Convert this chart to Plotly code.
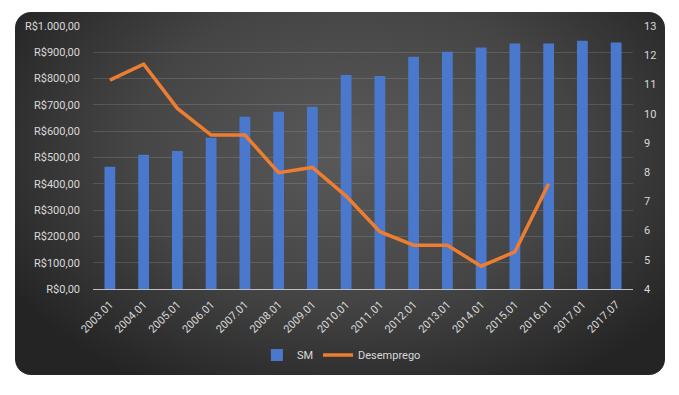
import base64
import plotly.graph_objects as go

categories = ["2003.01", "2004.01", "2005.01", "2006.01", "2007.01", "2008.01",
              "2009.01", "2010.01", "2011.01", "2012.01", "2013.01", "2014.01",
              "2015.01", "2016.01", "2017.01", "2017.07"]
sm_values = [465, 510, 525, 575, 655, 674, 693, 814, 810, 883, 902, 918, 933, 933, 944, 937]
desemprego = [11.15, 11.69, 10.18, 9.27, 9.27, 7.98, 8.16, 7.18, 5.96, 5.5, 5.5, 4.78, 5.27, 7.6, None, None]
left_tickvals = [0, 100, 200, 300, 400, 500, 600, 700, 800, 900, 1000]
left_ticktext = ["R$0,00", "R$100,00", "R$200,00", "R$300,00", "R$400,00", "R$500,00",
                 "R$600,00", "R$700,00", "R$800,00", "R$900,00", "R$1.000,00"]

svg = """<svg xmlns='http://www.w3.org/2000/svg' width='650' height='363' viewBox='0 0 650 363' preserveAspectRatio='none'>
<defs><radialGradient id='g' cx='0.52' cy='0.38' r='0.62' gradientTransform='translate(0.52 0.38) scale(1 1.2) translate(-0.52 -0.38)'>
<stop offset='0' stop-color='#5a5a5a'/><stop offset='0.55' stop-color='#454545'/><stop offset='1' stop-color='#242424'/></radialGradient></defs>
<rect x='0' y='0' width='650' height='363' rx='16' ry='16' fill='url(#g)'/></svg>"""
src = "data:image/svg+xml;base64," + base64.b64encode(svg.encode()).decode()

font = dict(family="Roboto, 'Open Sans', sans-serif", size=11, color="#d9d9d9")

fig = go.Figure()
fig.add_trace(go.Bar(x=categories, y=sm_values, name="SM",
                     marker=dict(color="#4a78cc", line=dict(width=0)), yaxis="y"))
fig.add_trace(go.Scatter(x=categories, y=desemprego, name="Desemprego", mode="lines",
                         line=dict(color="#ed7d31", width=3.5), yaxis="y2",
                         connectgaps=False))

# page has an 8px body margin; figure coordinates = page coordinates - 8
OFF = 8
W, H = 679, 395
L, T = 93 - OFF, 26 - OFF
pw, ph = 540, 263
R, B = W - L - pw, H - T - ph

fig.add_layout_image(dict(source=src, xref="paper", yref="paper",
                          x=(15 - OFF - L) / pw, y=1 + (T - (12 - OFF)) / ph,
                          sizex=650 / pw, sizey=363 / ph,
                          sizing="stretch", layer="below", xanchor="left", yanchor="top"))

fig.update_layout(
    width=W, height=H,
    margin=dict(l=L, r=R, t=T, b=B),
    paper_bgcolor="white", plot_bgcolor="rgba(0,0,0,0)",
    font=font,
    bargap=0.68,
    showlegend=True,
    legend=dict(orientation="h", x=0.46, xanchor="center", y=-(355 - 289) / ph,
                yanchor="middle", font=font, bgcolor="rgba(0,0,0,0)"),
    xaxis=dict(type="category", tickangle=-45, showgrid=False, showline=False,
               ticks="", tickfont=font, zeroline=False, ticklabelstandoff=6),
    yaxis=dict(range=[0, 1000], tickvals=left_tickvals, ticktext=left_ticktext,
               showgrid=True, gridcolor="rgba(255,255,255,0.13)", gridwidth=1,
               zeroline=True, zerolinecolor="#bfbfbf", zerolinewidth=1.2,
               showline=False, ticks="", tickfont=font, ticklabelstandoff=12),
    yaxis2=dict(range=[4, 13], dtick=1, overlaying="y", side="right",
                showgrid=False, zeroline=False, showline=False, ticks="",
                tickfont=font, ticklabelstandoff=10),
)

fig.write_html("out.html")
